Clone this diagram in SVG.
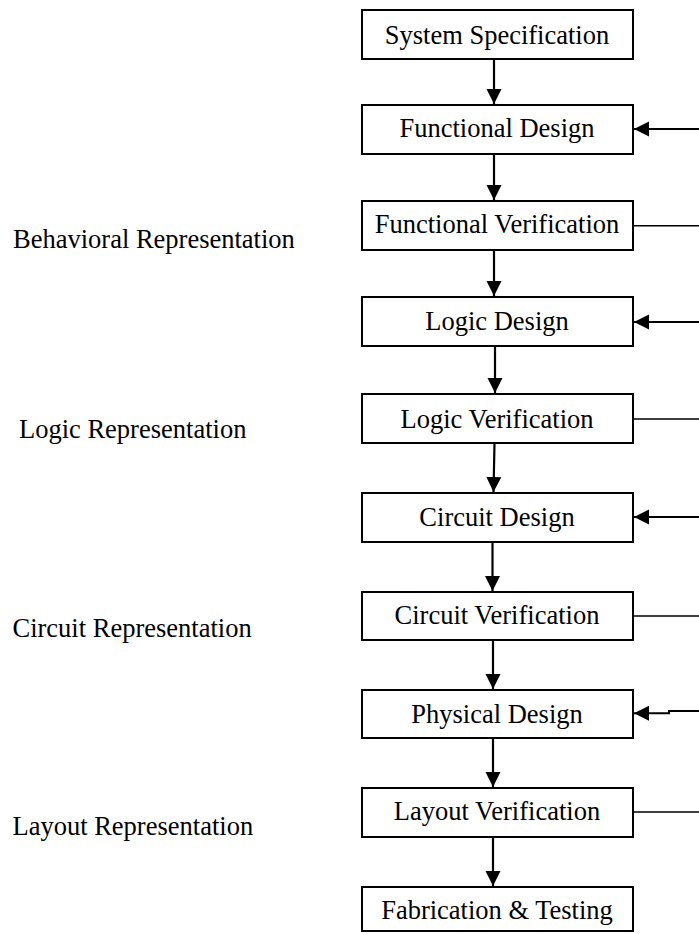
<svg xmlns="http://www.w3.org/2000/svg" width="699" height="934" viewBox="0 0 699 934">
  <style>
    .box { fill: #ffffff; stroke: #000000; stroke-width: 2; }
    .lbl { font-family: "Liberation Serif", "Times New Roman", serif; font-size: 26.5px; fill: #000000; }
    .mid { text-anchor: middle; }
    .flow { stroke: #000000; stroke-width: 2.2; fill: none; marker-end: url(#head); }
    .back { stroke: #000000; stroke-width: 2; fill: none; marker-end: url(#head); }
    .out { stroke: #000000; stroke-width: 1.4; fill: none; }
  </style>
  <defs>
    <marker id="head" markerUnits="userSpaceOnUse" markerWidth="16" markerHeight="16" viewBox="0 0 16 16" refX="15" refY="8" orient="auto">
      <path d="M0,0.5 L15,8 L0,15.5 Z" fill="#000000"/>
    </marker>
  </defs>

  <rect width="699" height="934" fill="#ffffff"/>

  <!-- representation levels -->
  <g id="levels">
    <text class="lbl" x="13" y="248">Behavioral Representation</text>
    <text class="lbl" x="19" y="437.5">Logic Representation</text>
    <text class="lbl" x="12.5" y="637">Circuit Representation</text>
    <text class="lbl" x="12.5" y="835">Layout Representation</text>
  </g>

  <!-- design flow steps -->
  <g id="system-spec">
    <rect class="box" x="362" y="10" width="271" height="49"/>
    <text class="lbl mid" x="497" y="43.5">System Specification</text>
  </g>
  <g id="functional-design">
    <rect class="box" x="362" y="105" width="271" height="49"/>
    <text class="lbl mid" x="497" y="137">Functional Design</text>
  </g>
  <g id="functional-verification">
    <rect class="box" x="362" y="201" width="271" height="49"/>
    <text class="lbl mid" x="497" y="233">Functional Verification</text>
  </g>
  <g id="logic-design">
    <rect class="box" x="362" y="297" width="271" height="49"/>
    <text class="lbl mid" x="497" y="330">Logic Design</text>
  </g>
  <g id="logic-verification">
    <rect class="box" x="362" y="394" width="271" height="49"/>
    <text class="lbl mid" x="497" y="427.5">Logic Verification</text>
  </g>
  <g id="circuit-design">
    <rect class="box" x="362" y="493" width="271" height="49"/>
    <text class="lbl mid" x="497" y="526">Circuit Design</text>
  </g>
  <g id="circuit-verification">
    <rect class="box" x="362" y="592" width="271" height="48"/>
    <text class="lbl mid" x="497" y="623.5">Circuit Verification</text>
  </g>
  <g id="physical-design">
    <rect class="box" x="362" y="690" width="271" height="48"/>
    <text class="lbl mid" x="497" y="722.5">Physical Design</text>
  </g>
  <g id="layout-verification">
    <rect class="box" x="362" y="788" width="271" height="49"/>
    <text class="lbl mid" x="497" y="820">Layout Verification</text>
  </g>
  <g id="fabrication-testing">
    <rect class="box" x="362" y="887" width="271" height="44"/>
    <text class="lbl mid" x="497" y="919">Fabrication &amp; Testing</text>
  </g>

  <!-- connectors -->
  <g id="connectors">
    <!-- downward flow -->
    <path class="flow" d="M494,59 L494,104"/>
    <path class="flow" d="M494,154 L494,200"/>
    <path class="flow" d="M494,250 L494,296"/>
    <path class="flow" d="M495,346 L495,393"/>
    <path class="flow" d="M494.5,443 L493.5,492"/>
    <path class="flow" d="M492.5,542 L492.5,591"/>
    <path class="flow" d="M493,640 L493,689"/>
    <path class="flow" d="M493,738 L493,787"/>
    <path class="flow" d="M493,837 L493,886"/>

    <!-- verification outputs leaving to the right -->
    <path class="out" d="M633,225.7 L699,225.7"/>
    <path class="out" d="M633,419 L699,419"/>
    <path class="out" d="M633,616 L699,616"/>
    <path class="out" d="M633,812 L699,812"/>

    <!-- iterations returning into the design steps -->
    <path class="back" d="M699,129 L634,129"/>
    <path class="back" d="M699,322 L634,322"/>
    <path class="back" d="M699,517 L634,517"/>
    <path class="back" d="M699,711 L669,711 L669,713.3 L634,713.3"/>
  </g>
</svg>
